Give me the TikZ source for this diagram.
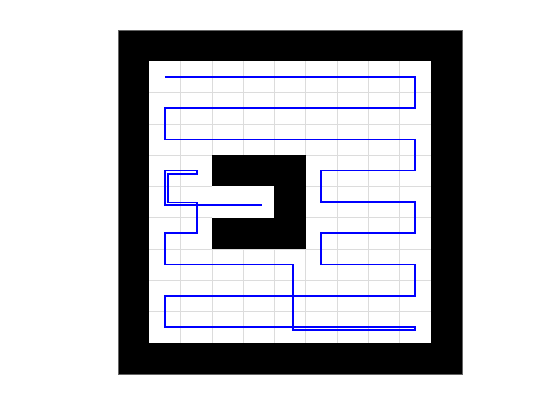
\documentclass[tikz,border=0pt]{standalone}
\usepackage{tikz}
\usepackage{xcolor}
\definecolor{mapFree}{RGB}{255,255,255}
\definecolor{mapWall}{RGB}{0,0,0}
\definecolor{mapGrid}{RGB}{220,220,220}
\definecolor{mapBox}{RGB}{100,100,100}
\definecolor{pathBlue}{RGB}{0,0,255}
\tikzset{
    wall/.style={fill=mapWall, draw=none},
    free/.style={fill=mapFree, draw=none},
    gridLine/.style={draw=mapGrid, line width=0.4pt},
    axesBox/.style={draw=mapBox, line width=0.4pt},
    coverPath/.style={draw=pathBlue, line width=1.1pt, line join=miter}
}

\begin{document}
\begin{tikzpicture}[x=0.7818cm, y=-0.7818cm]
    \useasboundingbox (-3.774,-0.959) rectangle (14.135,12.472);
    % occupancy map
    \fill[wall] (0,0) rectangle (11,11);
    \fill[free] (1,1) rectangle (10,10);
    \foreach \k in {2,...,9} {
        \draw[gridLine] (\k,1) -- (\k,10);
        \draw[gridLine] (1,\k) -- (10,\k);
    }
    % obstacle
    \fill[wall] (3,4) rectangle (6,7);
    \fill[free] (3,5) rectangle (5,6);
    \draw[axesBox] (0,0) rectangle (11,11);
    % coverage path
    \draw[coverPath] (1.5,1.5) -- (9.5,1.5) -- (9.5,2.5) -- (1.5,2.5)
        -- (1.5,3.5) -- (9.5,3.5) -- (9.5,4.5) -- (6.5,4.5)
        -- (6.5,5.5) -- (9.5,5.5) -- (9.5,6.5) -- (6.5,6.5)
        -- (6.5,7.5) -- (9.5,7.5) -- (9.5,8.5) -- (1.5,8.5)
        -- (1.5,9.5) -- (9.5,9.5) -- (9.5,9.6) -- (5.59,9.6)
        -- (5.59,7.5) -- (1.5,7.5) -- (1.5,6.5) -- (2.52,6.5)
        -- (2.52,5.52) -- (1.6,5.52) -- (1.6,4.6) -- (2.52,4.6)
        -- (2.52,4.5) -- (1.5,4.5) -- (1.5,5.6) -- (4.6,5.6);
\end{tikzpicture}
\end{document}
